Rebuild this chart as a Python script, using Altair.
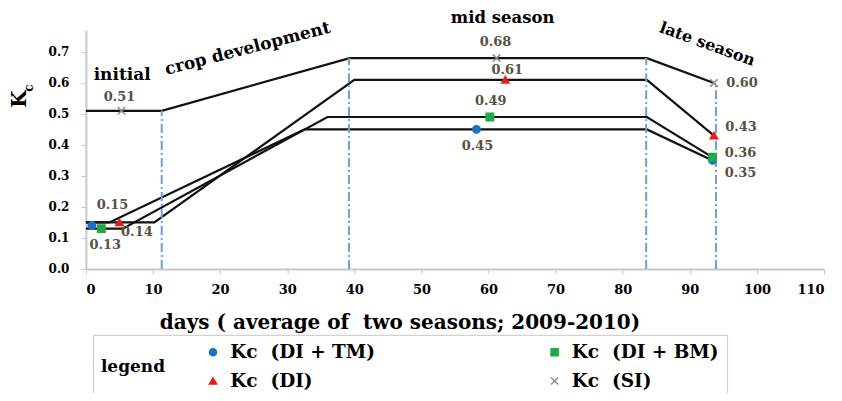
import altair as alt
import pandas as pd

FONT = "DejaVu Serif"

# ---- black Kc curves (vertices) ----
si_days = [0, 11.3, 39.3, 83.6, 93.6]
si_kc = [0.51, 0.51, 0.68, 0.68, 0.60]
di_days = [0, 10.2, 40.0, 83.6, 93.6]
di_kc = [0.15, 0.15, 0.61, 0.61, 0.43]
tm_days = [0, 3.5, 32.6, 83.6, 93.4]
tm_kc = [0.15, 0.15, 0.45, 0.45, 0.35]
bm_days = [0, 5.5, 36.0, 83.6, 93.4]
bm_kc = [0.13, 0.13, 0.49, 0.49, 0.36]

# ---- marker points with their labels ----
series = ["DI + TM", "DI + BM", "DI", "SI"]
tm_pt_days = [0.9, 58.2, 93.4]
tm_pt_kc = [0.14, 0.45, 0.35]
bm_pt_days = [2.3, 60.2, 93.4]
bm_pt_kc = [0.13, 0.49, 0.36]
di_pt_days = [5.0, 62.5, 93.6]
di_pt_kc = [0.15, 0.61, 0.43]
si_pt_days = [5.3, 61.2, 93.6]
si_pt_kc = [0.51, 0.68, 0.60]

# ---- stage boundaries (dash-dot lines) ----
stage_days = [11.3, 39.2, 83.5, 93.9]
stage_top = [0.51, 0.68, 0.68, 0.60]

# ---- stage names ----
stage_names = ["initial", "crop development", "mid season", "late season"]
stage_name_days = [5.4, 24.1, 62.1, 92.6]
stage_name_kc = [0.625, 0.71, 0.81, 0.725]

x_ticks = list(range(0, 111, 10))
y_ticks = [0.0, 0.1, 0.2, 0.3, 0.4, 0.5, 0.6, 0.7]

# styling
colors = ["#1f6fc4", "#21a84a", "#e3201b", "#8c8c8c"]
shapes = ["circle", "square", "triangle-up", "M-1,-1L1,1M-1,1L1,-1"]
label_offsets = {
    "DI + TM": [(45, 6), (1, 17), (28, 13)],
    "DI + BM": [(4, 16), (1, -16), (28, -4)],
    "DI": [(-7, -17), (2, -10), (27, -9)],
    "SI": [(-2, -14), (-1, -16), (28, 0)],
}
stage_angles = [0, 345.5, 0, 20]
stage_sizes = [17, 17, 16.5, 16]

lines = pd.concat([
    pd.DataFrame({"series": name, "day": d, "kc": k, "order": range(len(d))})
    for name, d, k in [("SI", si_days, si_kc), ("DI", di_days, di_kc),
                       ("DI + TM", tm_days, tm_kc), ("DI + BM", bm_days, bm_kc)]
])

pts = pd.concat([
    pd.DataFrame({"series": name, "day": d, "kc": k, "idx": range(len(d))})
    for name, d, k in [("DI + TM", tm_pt_days, tm_pt_kc), ("DI + BM", bm_pt_days, bm_pt_kc),
                       ("DI", di_pt_days, di_pt_kc), ("SI", si_pt_days, si_pt_kc)]
])
pts["label"] = pts["kc"].map(lambda v: f"{v:.2f}")

rules = pd.DataFrame({"day": stage_days, "top": stage_top, "base": [0.0] * len(stage_days)})

xscale = alt.Scale(domain=[0, 110], nice=False)
yscale = alt.Scale(domain=[0, 0.77], nice=False, zero=False)

x_axis = alt.Axis(
    values=x_ticks, grid=False, title="days ( average of \u00a0two seasons; 2009-2010)",
    labelFont=FONT, labelFontWeight="bold", labelFontSize=13, labelColor="black",
    labelPadding=10, tickSize=5, tickColor="#c8c8c8", domainColor="#c8c8c8", domainWidth=2,
    labelOverlap=False,
    titleFont=FONT, titleFontWeight="bold", titleFontSize=20, titleColor="black",
    titleX=314, titleY=60, titleAlign="center", titleBaseline="alphabetic")
y_axis = alt.Axis(
    values=y_ticks, format=".1f", grid=False, title=None, labelOverlap=False,
    labelFont=FONT, labelFontWeight="bold", labelFontSize=12, labelColor="black",
    labelPadding=12, tickSize=5, tickColor="#c8c8c8", domainColor="#c8c8c8", domainWidth=2)


def xenc(field="day"):
    return alt.X(f"{field}:Q", scale=xscale, axis=x_axis)


def yenc(field="kc"):
    return alt.Y(f"{field}:Q", scale=yscale, axis=y_axis)


line_layer = alt.Chart(lines).mark_line(color="#111111", strokeWidth=2.2).encode(
    x=xenc(), y=yenc(), detail="series:N", order="order:Q")

rule_layer = alt.Chart(rules).mark_rule(
    color="#6f9fd6", strokeWidth=2, strokeDash=[9, 3, 2, 3]).encode(
    x=xenc(), y=yenc("base"), y2="top:Q")

legend = alt.Legend(
    title="legend", orient="none", legendX=7, legendY=305, columns=2, direction="horizontal",
    titleOrient="left", titleFont=FONT, titleFontSize=17, titleFontWeight="bold",
    titleColor="black", titlePadding=38, titleAnchor="middle", titleBaseline="middle",
    titleAlign="left",
    labelFont=FONT, labelFontSize=18.5, labelFontWeight="bold", labelColor="black",
    labelOffset=8, labelLimit=400, columnPadding=170, rowPadding=10, padding=8,
    strokeColor="#c8c8c8", fillColor="white", symbolSize=50, symbolStrokeWidth=1.5,
    labelExpr="'Kc\u00a0\u00a0(' + datum.label + ')'")

point_layer = alt.Chart(pts).mark_point(filled=True, size=55, opacity=1).encode(
    x=xenc(),
    y=yenc(),
    color=alt.Color("series:N", scale=alt.Scale(domain=series, range=colors), legend=legend),
    shape=alt.Shape("series:N", scale=alt.Scale(domain=series, range=shapes), legend=legend),
    stroke=alt.Stroke("series:N", scale=alt.Scale(domain=series, range=colors), legend=legend),
    strokeWidth=alt.value(1.5),
)

text_layers = []
for name, offs in label_offsets.items():
    for i, (dx, dy) in enumerate(offs):
        text_layers.append(
            alt.Chart(pts).transform_filter(
                (alt.datum.series == name) & (alt.datum.idx == i)
            ).mark_text(font=FONT, fontWeight="bold", fontSize=13, color="#5a5142",
                        dx=dx, dy=dy, baseline="middle", align="center").encode(
                x=xenc(), y=yenc(), text="label:N")
        )

stage_df = pd.DataFrame({"name": stage_names, "day": stage_name_days, "kc": stage_name_kc})
for i, nm in enumerate(stage_names):
    text_layers.append(
        alt.Chart(stage_df).transform_filter(alt.datum.name == nm).mark_text(
            font=FONT, fontWeight="bold", fontSize=stage_sizes[i], color="black",
            angle=stage_angles[i], baseline="middle", align="center").encode(
            x=xenc(), y=yenc(), text="name:N")
    )

# y-axis title: K with subscript c
ytitle_k = alt.Chart(stage_df.head(1)).mark_text(
    text="K", font=FONT, fontWeight="bold", fontSize=20, angle=270, color="black",
    baseline="middle", align="center").encode(x=alt.value(-66), y=alt.value(69))
ytitle_c = alt.Chart(stage_df.head(1)).mark_text(
    text="c", font=FONT, fontWeight="bold", fontSize=12, angle=270, color="black",
    baseline="middle", align="center").encode(x=alt.value(-57), y=alt.value(58))

chart = alt.layer(
    line_layer, rule_layer, point_layer, *text_layers, ytitle_k, ytitle_c
).properties(
    width=739, height=239,
    padding={"left": 78, "top": 22, "right": 10, "bottom": 124},
    autosize=alt.AutoSizeParams(type="none"),
    background="white",
).configure_view(stroke=None)

chart.save("out.html", embed_options={"renderer": "svg", "actions": False})
